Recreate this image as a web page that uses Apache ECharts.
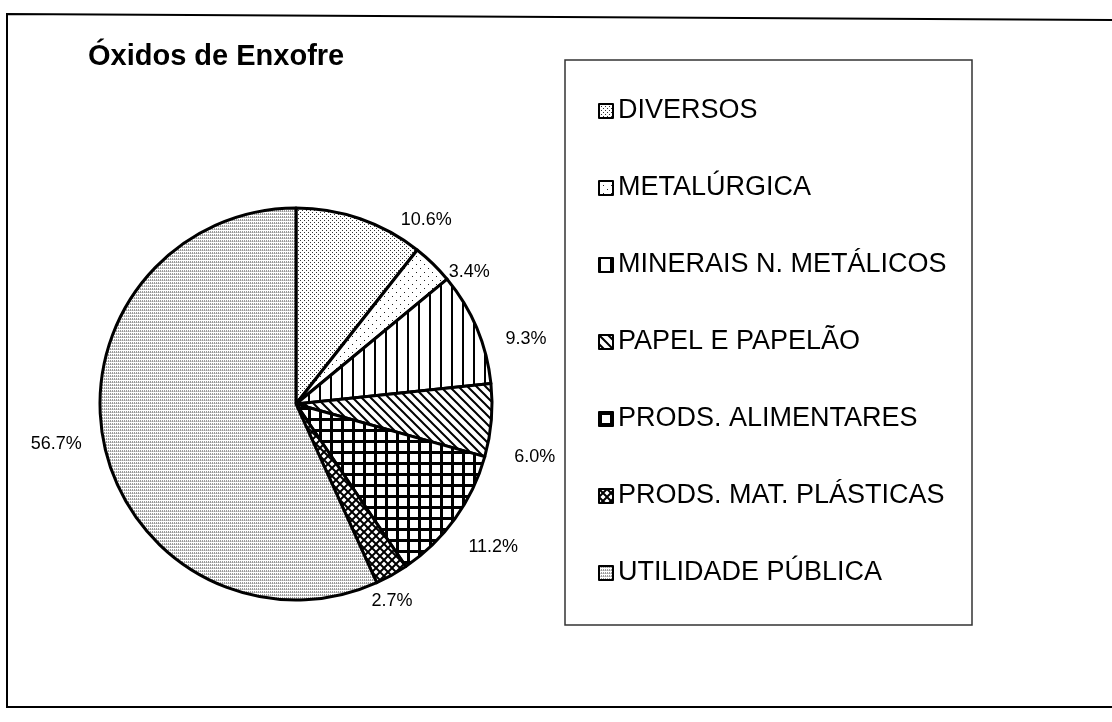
<!DOCTYPE html>
<html>
<head>
<meta charset="utf-8">
<title>Óxidos de Enxofre</title>
<script src="https://cdn.jsdelivr.net/npm/echarts@6/dist/echarts.min.js"></script>
<style>
  html, body { margin: 0; padding: 0; background: #fff; }
  #chart { width: 1112px; height: 722px; }
</style>
</head>
<body>
<div id="chart"></div>
<script>
// data
const title = 'Óxidos de Enxofre';
const categories = [
  'DIVERSOS',
  'METALÚRGICA',
  'MINERAIS N. METÁLICOS',
  'PAPEL E PAPELÃO',
  'PRODS. ALIMENTARES',
  'PRODS. MAT. PLÁSTICAS',
  'UTILIDADE PÚBLICA'
];
const values = [10.6, 3.4, 9.3, 6.0, 11.2, 2.7, 56.7];

// nudges for the percent labels, the original put them a bit differently
const labelOffsets = [[27, 14], [-3, 18], [7, 16], [0, 36], [-7, 20], [-36, 14], [0, -4]];

// small canvas tiles used as fill patterns (black & white print look)
function tile(w, h, draw) {
  const c = document.createElement('canvas');
  c.width = w;
  c.height = h;
  const ctx = c.getContext('2d');
  ctx.fillStyle = '#fff';
  ctx.fillRect(0, 0, w, h);
  draw(ctx);
  return { image: c, repeat: 'repeat' };
}

const patterns = [
  // fine dots
  tile(4, 4, ctx => {
    ctx.fillStyle = '#333';
    ctx.fillRect(0, 0, 1, 1);
    ctx.fillRect(2, 2, 1, 1);
  }),
  // sparse dots
  tile(8, 8, ctx => {
    ctx.fillStyle = '#222';
    ctx.fillRect(0, 0, 1, 1);
    ctx.fillRect(4, 4, 1, 1);
  }),
  // vertical lines
  tile(11, 11, ctx => {
    ctx.fillStyle = '#000';
    ctx.fillRect(0, 0, 2, 11);
  }),
  // diagonal lines "\"
  tile(9, 9, ctx => {
    ctx.strokeStyle = '#000';
    ctx.lineWidth = 2;
    ctx.beginPath();
    ctx.moveTo(-2, -2); ctx.lineTo(11, 11);
    ctx.moveTo(-11, -2); ctx.lineTo(2, 11);
    ctx.moveTo(7, -2); ctx.lineTo(20, 11);
    ctx.stroke();
  }),
  // square grid
  tile(11, 11, ctx => {
    ctx.fillStyle = '#000';
    ctx.fillRect(0, 0, 11, 3);
    ctx.fillRect(0, 0, 3, 11);
  }),
  // small diagonal cross hatch
  tile(8, 8, ctx => {
    ctx.strokeStyle = '#000';
    ctx.lineWidth = 2;
    ctx.beginPath();
    ctx.moveTo(-2, -2); ctx.lineTo(10, 10);
    ctx.moveTo(-2, 10); ctx.lineTo(10, -2);
    ctx.stroke();
  }),
  // light grey streaky texture
  tile(2, 3, ctx => {
    ctx.fillStyle = '#9a9a9a';
    ctx.fillRect(0, 0, 1, 2);
    ctx.fillStyle = '#cfcfcf';
    ctx.fillRect(1, 1, 1, 1);
  })
];

const chart = echarts.init(document.getElementById('chart'));

const option = {
  backgroundColor: '#fff',
  animation: false,
  title: {
    text: title,
    left: 83,
    top: 37,
    textStyle: {
      fontFamily: 'Liberation Sans, Arial, sans-serif',
      fontSize: 29,
      fontWeight: 'bold',
      color: '#000'
    }
  },
  legend: {
    orient: 'vertical',
    left: 593,
    top: 92,
    icon: 'rect',
    itemWidth: 14,
    itemHeight: 14,
    itemGap: 49,
    selectedMode: false,
    itemStyle: { borderColor: '#000', borderWidth: 2 },
    textStyle: {
      fontFamily: 'Liberation Sans, Arial, sans-serif',
      fontSize: 27,
      lineHeight: 28,
      color: '#000'
    },
    data: categories
  },
  graphic: [
    {
      type: 'polyline',
      shape: { points: [[1130, 20], [7, 14], [7, 707], [1130, 707]] },
      style: { fill: 'none', stroke: '#000', lineWidth: 2 },
      silent: true,
      z: -1
    },
    {
      type: 'rect',
      shape: { x: 565, y: 60, width: 407, height: 565 },
      style: { fill: 'none', stroke: '#333', lineWidth: 1.5 },
      silent: true,
      z: -1
    }
  ],
  series: [
    {
      type: 'pie',
      center: [296, 404],
      radius: 196,
      startAngle: 90,
      clockwise: true,
      avoidLabelOverlap: false,
      itemStyle: { borderColor: '#000', borderWidth: 3 },
      label: {
        position: 'outside',
        formatter: p => p.value.toFixed(1) + '%',
        fontFamily: 'Liberation Sans, Arial, sans-serif',
        fontSize: 18,
        color: '#000'
      },
      labelLine: { show: false, length: 14, length2: 4 },
      emphasis: { disabled: true },
      data: categories.map((name, i) => ({
        name: name,
        value: values[i],
        itemStyle: { color: patterns[i] },
        label: { offset: labelOffsets[i] }
      }))
    }
  ]
};

chart.setOption(option);
</script>
</body>
</html>
